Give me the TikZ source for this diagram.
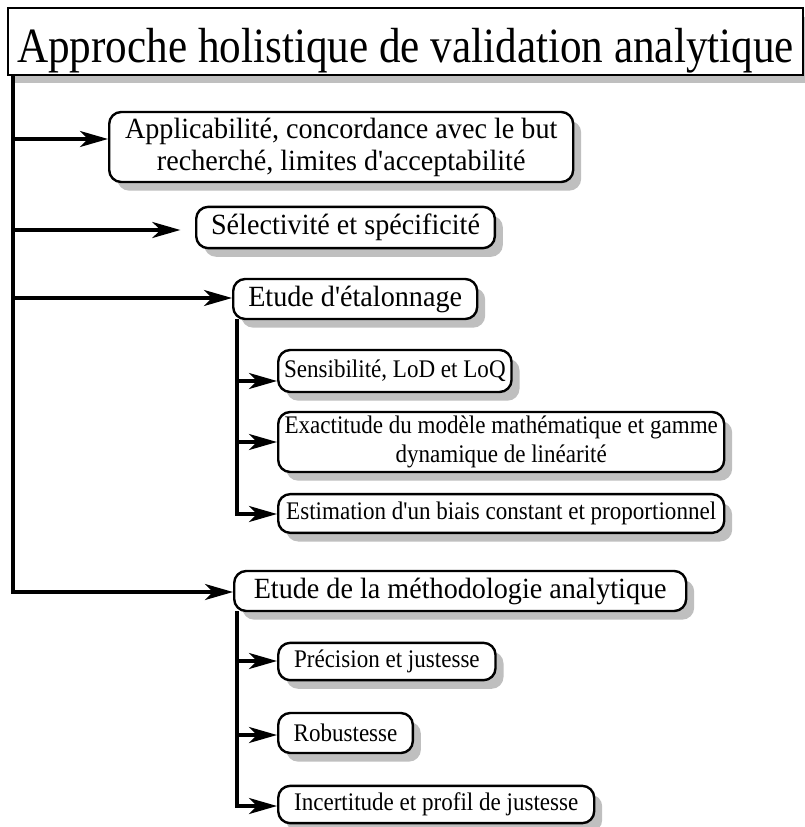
\documentclass[tikz,border=0pt]{standalone}
\usepackage{fontspec}
\setmainfont{Liberation Serif}
\newfontfamily\titlefont[FakeStretch=0.875]{Liberation Serif}
\newfontfamily\boxfont[FakeStretch=0.96]{Liberation Serif}
\newfontfamily\subfont[FakeStretch=0.91]{Liberation Serif}
\usetikzlibrary{arrows.meta,shadows}
\tikzset{
  titlebox/.style={draw, line width=1.5pt, fill=white, inner sep=0pt,
                   minimum width=596pt, minimum height=50pt,
                   text height=31pt, text depth=0pt,
                   font=\titlefont\fontsize{37}{42}\selectfont,
                   drop shadow={shadow xshift=5pt, shadow yshift=-6.5pt, fill=gray!50, opacity=1}},
  mainbox/.style={draw, line width=1.8pt, rounded corners=9pt, fill=white,
                  align=center, inner sep=0pt, anchor=west,
                  font=\boxfont\fontsize{22}{24}\selectfont,
                  drop shadow={shadow xshift=6pt, shadow yshift=-6.5pt, fill=gray!50, opacity=1}},
  subbox/.style={mainbox, font=\subfont\fontsize{19}{21.5}\selectfont},
  trunk/.style={line width=2.3pt, line cap=rect},
  branch/.style={line width=2.3pt, -{Stealth[length=21pt, width=12pt, inset=6pt]}},
}

\begin{document}
\begin{tikzpicture}[x=0.75pt, y=-0.75pt]
  \useasboundingbox (0,0) rectangle (804,827);
  \node[titlebox] (title) at (405.5,41.5) {Approche holistique de validation analytique};
  % premier niveau
  \node[mainbox, minimum width=348pt, minimum height=52.5pt] (appl) at (108,147)
    {Applicabilité, concordance avec le but\\recherché, limites d'acceptabilité};
  \node[mainbox, minimum width=224pt, minimum height=31pt] (selec) at (195,227.5) {Sélectivité et spécificité};
  \node[mainbox, minimum width=183pt, minimum height=30pt] (etal) at (232,299) {Etude d'étalonnage};
  \node[mainbox, minimum width=339pt, minimum height=30pt] (methodo) at (233,591) {Etude de la méthodologie analytique};
  % etalonnage
  \node[subbox, minimum width=175pt, minimum height=31.5pt] (sensib) at (277,371) {Sensibilité, LoD et LoQ};
  \node[subbox, minimum width=334.5pt, minimum height=45pt] (exact) at (277,442)
    {Exactitude du modèle mathématique et gamme\\dynamique de linéarité};
  \node[subbox, minimum width=334.5pt, minimum height=29pt] (biais) at (277,513.5) {Estimation d'un biais constant et proportionnel};
  % methodologie
  \node[subbox, minimum width=163pt, minimum height=28pt] (precis) at (277,661.5) {Précision et justesse};
  \node[subbox, minimum width=101pt, minimum height=30pt] (robust) at (277,733) {Robustesse};
  \node[subbox, minimum width=237pt, minimum height=28pt] (incert) at (277,804.5) {Incertitude et profil de justesse};

  \coordinate (t1) at (13,139);
  \coordinate (t2) at (13,230);
  \coordinate (t3) at (13,298);
  \coordinate (t4) at (13,592);
  \coordinate (e1) at (237,381);
  \coordinate (e2) at (237,442);
  \coordinate (e3) at (237,514);
  \coordinate (m1) at (237,661);
  \coordinate (m2) at (237,735);
  \coordinate (m3) at (237,806);

  \draw[trunk] (title.south -| t1) -- (t4);
  \draw[branch] (t1) -- (t1 -| appl.west);
  \draw[branch, shorten >=11pt] (t2) -- (t2 -| selec.west);
  \draw[branch] (t3) -- (t3 -| etal.west);
  \draw[branch] (t4) -- (t4 -| methodo.west);

  \draw[trunk] (etal.south -| e1) -- (e3);
  \draw[branch] (e1) -- (e1 -| sensib.west);
  \draw[branch] (e2) -- (e2 -| exact.west);
  \draw[branch] (e3) -- (e3 -| biais.west);

  \draw[trunk] (methodo.south -| m1) -- (m3);
  \draw[branch] (m1) -- (m1 -| precis.west);
  \draw[branch] (m2) -- (m2 -| robust.west);
  \draw[branch] (m3) -- (m3 -| incert.west);
\end{tikzpicture}
\end{document}
